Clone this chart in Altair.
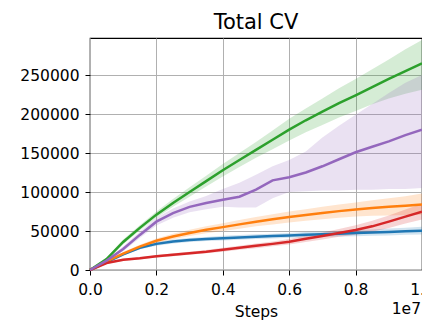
import altair as alt
import pandas as pd

STEPS = [0, 500000, 1000000, 1500000, 2000000, 2500000, 3000000, 3500000, 4000000, 4500000,
         5000000, 5500000, 6000000, 6500000, 7000000, 7500000, 8000000, 8500000, 9000000,
         9500000, 10000000]

BLUE_MEAN = [0, 10000, 20000, 28500, 33500, 36500, 38500, 39800, 40800, 41800, 42700, 43500,
             44300, 45100, 45900, 46600, 47300, 48000, 48800, 49600, 50400]
BLUE_LO = [0, 9000, 18500, 26500, 31000, 34000, 36000, 37300, 37800, 38800, 39700, 40500,
           41300, 41600, 42400, 43100, 43300, 44000, 44300, 45100, 45400]
BLUE_HI = [0, 11000, 21500, 30500, 36000, 39000, 41000, 42300, 43800, 44800, 45700, 46500,
           47300, 48600, 49400, 50100, 51300, 52000, 53300, 54100, 55400]

ORANGE_MEAN = [0, 11000, 21000, 30000, 37500, 43000, 47500, 51500, 55000, 58500, 62000, 65000,
               68000, 70500, 73000, 75500, 77500, 79500, 81000, 82500, 84000]
ORANGE_LO = [0, 10000, 19000, 27500, 34500, 39500, 43500, 47000, 50000, 53000, 56000, 58500,
             61000, 63000, 65000, 67000, 68500, 69500, 70000, 70500, 71000]
ORANGE_HI = [0, 12000, 23000, 32500, 40500, 46500, 51500, 56000, 60000, 64000, 68000, 71500,
             75000, 78000, 81000, 84000, 86500, 89500, 92000, 94500, 98000]

GREEN_MEAN = [0, 14000, 36000, 54000, 71000, 86000, 100000, 114000, 128000, 141000, 154000,
              167000, 180000, 192000, 203000, 214000, 224000, 234500, 245000, 255000, 265000]
GREEN_LO = [0, 12000, 33000, 50500, 67000, 81000, 94000, 107000, 120000, 132000, 144000,
            155000, 166000, 176500, 186000, 195500, 204000, 212500, 220000, 226000, 231000]
GREEN_HI = [0, 16000, 39000, 57500, 75000, 91000, 106000, 121000, 136000, 150000, 164000,
            179000, 194000, 207000, 220000, 233000, 245000, 257500, 270000, 283000, 295000]

RED_MEAN = [0, 9000, 13000, 15000, 17500, 19500, 21500, 23500, 26000, 28500, 31000, 33500,
            36300, 40000, 43600, 47500, 51300, 56000, 62000, 68500, 74800]
RED_LO = [0, 8000, 11500, 13500, 16000, 17500, 19500, 21500, 23500, 26000, 28000, 30500,
          32800, 36000, 39100, 42500, 45300, 49000, 54000, 59500, 64800]
RED_HI = [0, 10000, 14500, 16500, 19000, 21500, 23500, 25500, 28500, 31000, 34000, 36500,
          39800, 44000, 48100, 52500, 57300, 63000, 70000, 77500, 84800]

PURPLE_MEAN = [0, 12000, 27000, 45000, 62000, 73000, 81000, 86000, 90000, 94000, 103000,
               115000, 119000, 125000, 133000, 142000, 151000, 158000, 165000, 173000, 180000]
PURPLE_LO = [0, 11000, 24000, 41000, 57000, 67000, 74000, 78000, 81000, 80000, 80000, 92000,
             100000, 101000, 102000, 102000, 103000, 103000, 104000, 104000, 105000]
PURPLE_HI = [0, 13000, 30000, 49000, 67000, 79000, 88000, 95000, 104000, 112000, 122000,
             133000, 141000, 152000, 170000, 185000, 199000, 213000, 227000, 240000, 250000]

SERIES = [
    ("blue", "#1f77b4", BLUE_MEAN, BLUE_LO, BLUE_HI),
    ("orange", "#ff7f0e", ORANGE_MEAN, ORANGE_LO, ORANGE_HI),
    ("green", "#2ca02c", GREEN_MEAN, GREEN_LO, GREEN_HI),
    ("red", "#d62728", RED_MEAN, RED_LO, RED_HI),
    ("purple", "#9467bd", PURPLE_MEAN, PURPLE_LO, PURPLE_HI),
]

Y_TICKS = [0, 50000, 100000, 150000, 200000, 250000]
X_TICKS = [0, 2000000, 4000000, 6000000, 8000000, 10000000]

FONT = "DejaVu Sans"
W, H = 332, 232

xscale = alt.Scale(domain=[0, 10000000], nice=False, zero=False)
yscale = alt.Scale(domain=[0, 297500], nice=False)

xaxis = alt.Axis(values=X_TICKS, labelExpr="format(datum.value/1e7, '.1f')",
                 title="Steps", grid=True, gridColor="#b0b0b0", gridWidth=1,
                 domain=False, tickColor="black", tickSize=5, tickWidth=1,
                 labelFont=FONT, labelFontSize=15.5, labelColor="black",
                 labelBaseline="alphabetic", labelPadding=19, labelFlush=False,
                 titleFont=FONT, titleFontSize=15.5, titleFontWeight="normal",
                 titleColor="black", titleBaseline="alphabetic", titleY=46)
yaxis = alt.Axis(values=Y_TICKS, format="d", title=None, grid=True,
                 gridColor="#b0b0b0", gridWidth=1, domain=False,
                 tickColor="black", tickSize=5, tickWidth=1,
                 labelFont=FONT, labelFontSize=15.5, labelColor="black",
                 labelPadding=6, labelFlush=False)

layers = []
for name, color, mean, lo, hi in SERIES:
    df = pd.DataFrame({"step": STEPS, "mean": mean, "lo": lo, "hi": hi})
    band = alt.Chart(df).mark_area(color=color, opacity=0.2).encode(
        x=alt.X("step:Q", scale=xscale, axis=xaxis),
        y=alt.Y("lo:Q", scale=yscale, axis=yaxis),
        y2="hi:Q")
    layers.append(band)

for name, color, mean, lo, hi in SERIES:
    df = pd.DataFrame({"step": STEPS, "mean": mean})
    line = alt.Chart(df).mark_line(color=color, strokeWidth=2.5).encode(
        x=alt.X("step:Q", scale=xscale, axis=xaxis),
        y=alt.Y("mean:Q", scale=yscale, axis=yaxis))
    layers.append(line)

label_df = pd.DataFrame({"t": ["1e7"]})
offset_text = alt.Chart(label_df).mark_text(
    font=FONT, fontSize=15.5, color="black", align="right", baseline="alphabetic"
).encode(x=alt.value(W - 1), y=alt.value(276), text="t:N")
layers.append(offset_text)

title_df = pd.DataFrame({"t": ["Total CV"]})
title_text = alt.Chart(title_df).mark_text(
    font=FONT, fontSize=21, color="black", align="center", baseline="alphabetic"
).encode(x=alt.value(W / 2), y=alt.value(-9.5), text="t:N")
layers.append(title_text)

chart = alt.layer(*layers).properties(
    width=W, height=H,
    autosize=alt.AutoSizeParams(type="none"),
    padding={"left": 82, "top": 30, "right": 0, "bottom": 50},
).configure_view(stroke="black", strokeWidth=1.2)

chart.save("out.html", embed_options={"renderer": "svg", "actions": False})
